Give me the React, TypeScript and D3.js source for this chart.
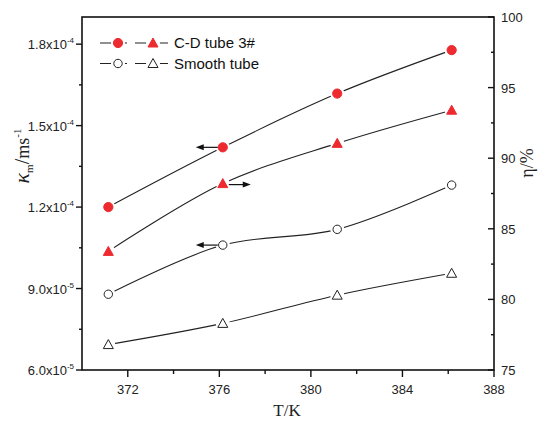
import React from 'react';
import * as d3 from 'd3';

const temps = [371.15, 376.15, 381.15, 386.15];
const cdKm = [1.2e-4, 1.42e-4, 1.618e-4, 1.778e-4];
const smoothKm = [0.879e-4, 1.06e-4, 1.118e-4, 1.281e-4];
const cdEta = [83.4, 88.2, 91.05, 93.4];
const smoothEta = [76.8, 78.3, 80.3, 81.85];

const xTicks = [372, 376, 380, 384, 388];
const xMinor = [374, 378, 382, 386];
const leftTicks = [6e-5, 9e-5, 1.2e-4, 1.5e-4, 1.8e-4];
const leftTickLabels = [['6.0x10', '-5'], ['9.0x10', '-5'], ['1.2x10', '-4'], ['1.5x10', '-4'], ['1.8x10', '-4']];
const leftMinor = [7.5e-5, 1.05e-4, 1.35e-4, 1.65e-4];
const rightTicks = [75, 80, 85, 90, 95, 100];
const rightMinor = [77.5, 82.5, 87.5, 92.5, 97.5];
const legendNames = ['C-D tube 3#', 'Smooth tube'];

const W = 538;
const H = 422;
const m = { left: 82, right: 494, top: 17, bottom: 370 };
const RED = '#ec2a30';
const sans = '"Liberation Sans", Arial, sans-serif';
const serif = '"Liberation Serif", "DejaVu Serif", serif';

const x = d3.scaleLinear().domain([370, 388]).range([m.left, m.right]);
const yL = d3.scaleLinear().domain([6e-5, 1.9e-4]).range([m.bottom, m.top]);
const yR = d3.scaleLinear().domain([75, 100]).range([m.bottom, m.top]);

const curve = (ys: number[], scale: d3.ScaleLinear<number, number>) =>
  d3.line<number>().x((_, i) => x(temps[i])).y(d => scale(d)).curve(d3.curveCatmullRom.alpha(0.5))(ys) || '';

const triPath = (cx: number, cy: number, s = 5) =>
  `M${cx},${cy - s}L${cx + s},${cy + s * 0.8}L${cx - s},${cy + s * 0.8}Z`;

const Circle = ({ cx, cy, filled }: { cx: number; cy: number; filled: boolean }) => (
  <g>
    <circle cx={cx} cy={cy} r={7} fill="white" />
    <circle cx={cx} cy={cy} r={filled ? 4.6 : 4.2} fill={filled ? RED : 'white'} stroke={filled ? RED : '#222'} strokeWidth={1} />
  </g>
);

const Tri = ({ cx, cy, filled }: { cx: number; cy: number; filled: boolean }) => (
  <g>
    <circle cx={cx} cy={cy} r={7} fill="white" />
    <path d={triPath(cx, cy)} fill={filled ? RED : 'white'} stroke={filled ? RED : '#222'} strokeWidth={1} />
  </g>
);

const Arrow = ({ x1, x2, y }: { x1: number; x2: number; y: number }) => {
  const dir = Math.sign(x2 - x1);
  return (
    <g>
      <line x1={x1} y1={y} x2={x2 - dir * 6} y2={y} stroke="#111" strokeWidth={1.2} />
      <path d={`M${x2},${y}L${x2 - dir * 8},${y - 3}L${x2 - dir * 8},${y + 3}Z`} fill="#111" />
    </g>
  );
};

export default function App() {
  return (
    <svg width={W} height={H} style={{ position: 'absolute', left: 0, top: 0, background: 'white' }}>
      {/* series lines */}
      <g fill="none" stroke="#222" strokeWidth={1.1}>
        <path d={curve(cdKm, yL)} />
        <path d={curve(cdEta, yR)} />
        <path d={curve(smoothKm, yL)} />
        <path d={curve(smoothEta, yR)} />
      </g>
      {temps.map((t, i) => (
        <g key={t}>
          <Circle cx={x(t)} cy={yL(cdKm[i])} filled />
          <Tri cx={x(t)} cy={yR(cdEta[i])} filled />
          <Circle cx={x(t)} cy={yL(smoothKm[i])} filled={false} />
          <Tri cx={x(t)} cy={yR(smoothEta[i])} filled={false} />
        </g>
      ))}

      {/* axis-indicating arrows */}
      <Arrow x1={x(temps[1]) - 5} x2={x(temps[1]) - 27} y={yL(cdKm[1])} />
      <Arrow x1={x(temps[1]) + 6} x2={x(temps[1]) + 28} y={yR(cdEta[1]) + 1} />
      <Arrow x1={x(temps[1]) - 5} x2={x(temps[1]) - 27} y={yL(smoothKm[1])} />

      {/* frame */}
      <rect x={m.left} y={m.top} width={m.right - m.left} height={m.bottom - m.top} fill="none" stroke="#111" strokeWidth={1.6} />

      {/* bottom axis */}
      <g stroke="#111" strokeWidth={1.4}>
        {xTicks.map(t => <line key={t} x1={x(t)} x2={x(t)} y1={m.bottom} y2={m.bottom + 7} />)}
        {xMinor.map(t => <line key={t} x1={x(t)} x2={x(t)} y1={m.bottom} y2={m.bottom + 4} />)}
      </g>
      <g fontFamily={sans} fontSize={13} fill="#222" textAnchor="middle">
        {xTicks.map(t => <text key={t} x={x(t)} y={m.bottom + 24}>{t}</text>)}
      </g>
      <text x={(m.left + m.right) / 2 - 1} y={m.bottom + 46} fontFamily={serif} fontSize={17} textAnchor="middle" fill="#222">T/K</text>

      {/* left axis */}
      <g stroke="#111" strokeWidth={1.4}>
        {leftTicks.map(t => <line key={t} x1={m.left - 6} x2={m.left} y1={yL(t)} y2={yL(t)} />)}
        {leftMinor.map(t => <line key={t} x1={m.left - 3} x2={m.left} y1={yL(t)} y2={yL(t)} />)}
      </g>
      <g fontFamily={sans} fill="#222">
        {leftTicks.map((t, i) => (
          <text key={t} x={m.left - 8} y={yL(t) + 5} textAnchor="end" fontSize={13}>
            {leftTickLabels[i][0]}
            <tspan fontSize={8} dy={-6}>{leftTickLabels[i][1]}</tspan>
          </text>
        ))}
      </g>
      <text transform="translate(29,156) rotate(-90)" fontFamily={serif} fontSize={18} textAnchor="middle" fill="#222">
        <tspan fontStyle="italic" fontSize={22}>κ</tspan>
        <tspan fontSize={11} dy={4}>m</tspan>
        <tspan fontSize={20} dy={-4}>/</tspan>
        <tspan>ms</tspan>
        <tspan fontSize={11} dy={-8}>-1</tspan>
      </text>

      {/* right axis */}
      <g stroke="#111" strokeWidth={1.4}>
        {rightTicks.map(t => <line key={t} x1={m.right - 6} x2={m.right} y1={yR(t)} y2={yR(t)} />)}
        {rightMinor.map(t => <line key={t} x1={m.right - 3} x2={m.right} y1={yR(t)} y2={yR(t)} />)}
      </g>
      <g fontFamily={sans} fontSize={13} fill="#222">
        {rightTicks.map(t => <text key={t} x={m.right + 7} y={yR(t) + 5}>{t}</text>)}
      </g>
      <text transform="translate(533,163) rotate(-90)" fontFamily={serif} fontSize={18} textAnchor="middle" fill="#222">η/%</text>

      {/* legend */}
      {legendNames.map((name, i) => {
        const ly = 43 + i * 20.5;
        const filled = i === 0;
        return (
          <g key={name}>
            <line x1={100} x2={168} y1={ly} y2={ly} stroke="#222" strokeWidth={1.1} />
            <Circle cx={118} cy={ly} filled={filled} />
            <Tri cx={153} cy={ly} filled={filled} />
            <line x1={127} x2={135} y1={ly} y2={ly} stroke="white" strokeWidth={3} />
            <text x={174} y={ly + 5} fontFamily={sans} fontSize={15} fill="#111">{name}</text>
          </g>
        );
      })}
    </svg>
  );
}
